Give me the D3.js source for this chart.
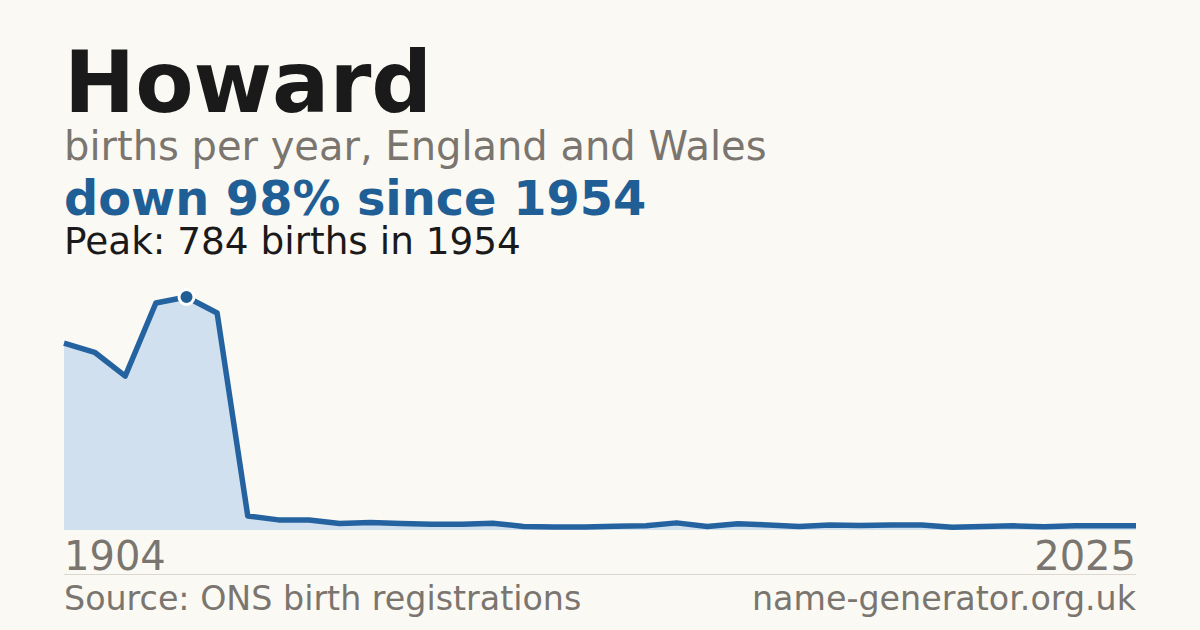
<!DOCTYPE html>
<html>
<head>
<meta charset="utf-8">
<script src="https://cdn.jsdelivr.net/npm/d3@7"></script>
<style>
  html, body { margin: 0; padding: 0; background: #faf9f4; }
  svg { display: block; font-family: "DejaVu Sans", sans-serif; }
</style>
</head>
<body>
<svg id="chart" width="1200" height="630"></svg>
<script>
// --- dados ---
const years = [1904, 1914, 1924, 1934, 1954, 1964,
  1996, 1997, 1998, 1999, 2000, 2001, 2002, 2003, 2004, 2005,
  2006, 2007, 2008, 2009, 2010, 2011, 2012, 2013, 2014, 2015,
  2016, 2017, 2018, 2019, 2020, 2021, 2022, 2023, 2024, 2025];
const births = [629, 598, 518, 764, 784, 730,
  47, 34, 34, 22, 25, 22, 19, 19, 23, 12,
  10, 10, 13, 14, 24, 12, 21, 17, 12, 17,
  15, 17, 17, 9, 12, 14, 11, 14, 14, 14];
const name = "Howard";
const subtitle = "births per year, England and Wales";
const sourceText = "Source: ONS birth registrations";
const siteText = "name-generator.org.uk";

const data = years.map((y, i) => ({year: y, value: births[i]}));
const peak = data.reduce((a, b) => b.value > a.value ? b : a);
const last = data[data.length - 1];
const pct = Math.round((1 - last.value / peak.value) * 100);

const svg = d3.select("#chart");
const left = 64, right = 1136;

// cabeçalho
svg.append("text").attr("x", left).attr("y", 112)
  .attr("font-size", 85).attr("font-weight", "bold").attr("fill", "#1a1a1a")
  .text(name);
svg.append("text").attr("x", left).attr("y", 160)
  .attr("font-size", 40).attr("fill", "#7a756e")
  .text(subtitle);
svg.append("text").attr("x", left).attr("y", 215)
  .attr("font-size", 47.8).attr("font-weight", "bold").attr("fill", "#1f5f96")
  .text(`down ${pct}% since ${peak.year}`);
svg.append("text").attr("x", left).attr("y", 254)
  .attr("font-size", 37.4).attr("fill", "#1a1a1a")
  .text(`Peak: ${peak.value} births in ${peak.year}`);

// escalas
const x = d3.scalePoint().domain(years).range([left, right]);
const y = d3.scaleLinear().domain([0, peak.value]).range([530, 297]);

const area = d3.area()
  .x(d => x(d.year))
  .y0(y(0))
  .y1(d => y(d.value));
const line = d3.line()
  .x(d => x(d.year))
  .y(d => y(d.value));

svg.append("path").datum(data)
  .attr("d", area)
  .attr("fill", "#d0e0ef");
svg.append("path").datum(data)
  .attr("d", line)
  .attr("fill", "none")
  .attr("stroke", "#2563a0")
  .attr("stroke-width", 5.5)
  .attr("stroke-linejoin", "round");

// marcador do pico
svg.append("circle")
  .attr("cx", x(peak.year)).attr("cy", y(peak.value))
  .attr("r", 7.5)
  .attr("fill", "#1f5f96")
  .attr("stroke", "#ffffff")
  .attr("stroke-width", 3);

// anos extremos
svg.append("text").attr("x", left).attr("y", 570)
  .attr("font-size", 40).attr("fill", "#7a756e")
  .text(years[0]);
svg.append("text").attr("x", right).attr("y", 570)
  .attr("text-anchor", "end")
  .attr("font-size", 40).attr("fill", "#7a756e")
  .text(years[years.length - 1]);

// separador e rodapé
svg.append("line")
  .attr("x1", left).attr("x2", right)
  .attr("y1", 574.5).attr("y2", 574.5)
  .attr("stroke", "#dcd8d0").attr("stroke-width", 1);
svg.append("text").attr("x", left).attr("y", 610)
  .attr("font-size", 33.3).attr("fill", "#7a756e")
  .text(sourceText);
svg.append("text").attr("x", right).attr("y", 610)
  .attr("text-anchor", "end")
  .attr("font-size", 33.3).attr("fill", "#7a756e")
  .text(siteText);
</script>
</body>
</html>
